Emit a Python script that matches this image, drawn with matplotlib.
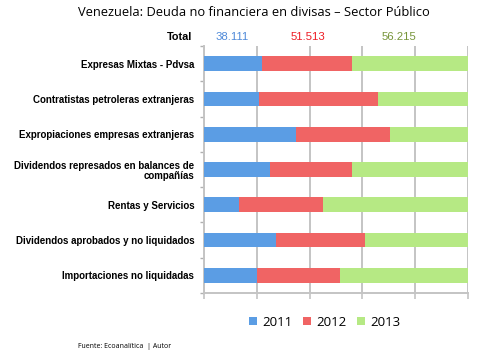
import matplotlib
matplotlib.use('Agg')
import matplotlib.pyplot as plt
import numpy as np

# 数据（百分比，从图中读取）
categorias = ['Expresas Mixtas - Pdvsa',
              'Contratistas petroleras extranjeras',
              'Expropiaciones empresas extranjeras',
              'Dividendos represados en balances de\ncompañías',
              'Rentas y Servicios',
              'Dividendos aprobados y no liquidados',
              'Importaciones no liquidadas']
anios = ['2011', '2012', '2013']
v2011 = [22.1, 21.0, 34.7, 25.0, 13.4, 27.3, 20.2]
v2012 = [33.9, 44.9, 35.6, 31.1, 31.7, 33.8, 31.3]
v2013 = [44.0, 34.1, 29.7, 43.9, 54.9, 38.9, 48.5]
totales = ['38.111', '51.513', '56.215']

colores = ['#5b9de4', '#f06464', '#b6e984']
colores_texto = ['#4f8ad9', '#ee1c25', '#77953a']

fig = plt.figure(figsize=(4.91, 3.54), dpi=100)
ax = fig.add_axes([204 / 491, 1 - 293 / 354, 264 / 491, 247 / 354])

y = np.arange(len(categorias))
izq = np.zeros(len(categorias))
barras = []
for serie, color, nombre in zip([v2011, v2012, v2013], colores, anios):
    b = ax.barh(y, serie, left=izq, height=0.42, color=color, label=nombre, zorder=3)
    barras.append(b)
    izq = izq + np.array(serie)

ax.set_xlim(0, 100)
ax.set_ylim(len(categorias) - 0.5, -0.5)

## 网格和坐标轴
ax.set_xticks(np.arange(0, 101, 20))
ax.set_xticklabels([])
ax.grid(axis='x', color='#c4c4c4', linewidth=1.4, zorder=0)
ax.tick_params(axis='x', length=4, color='#c4c4c4', width=1.2)

ax.set_yticks(y)
ax.set_yticklabels(categorias, fontsize=7, fontweight='bold', family='Liberation Sans',
                   linespacing=1.1)
ax.set_yticks(np.arange(-0.5, len(categorias), 1), minor=True)
ax.tick_params(axis='y', which='major', length=0, pad=7)
ax.tick_params(axis='y', which='minor', length=3, color='#b0b0b0', width=1)

for s in ['top', 'right']:
    ax.spines[s].set_visible(False)
for s in ['left', 'bottom']:
    ax.spines[s].set_color('#c4c4c4')
    ax.spines[s].set_linewidth(1.4)

## 总计行
ax.text(-4.6, -0.76, 'Total', ha='right', va='center', fontsize=7.8, fontweight='bold',
        family='Liberation Sans', clip_on=False)
for xp, t, c in zip([10.6, 39.4, 73.9], totales, colores_texto):
    ax.text(xp, -0.76, t, ha='center', va='center', fontsize=8.2, color=c,
            family='Liberation Sans', clip_on=False)

## 标题
fig.text(254 / 491, 1 - 12 / 354, 'Venezuela: Deuda no financiera en divisas – Sector Público',
         ha='center', va='center', fontsize=9.3, family='Open Sans')

## 图例
fig.legend(handles=barras, labels=anios, loc='center', bbox_to_anchor=(325 / 491, 1 - 322 / 354),
           ncol=3, frameon=False, handlelength=0.6, handleheight=0.6,
           handletextpad=0.4, columnspacing=0.8, prop={'family': 'Open Sans', 'size': 9.5})

## 来源
fig.text(78 / 491, 1 - 346 / 354, 'Fuente: Ecoanalítica  | Autor', ha='left', va='center',
         fontsize=5, family='Open Sans')

fig.savefig('out.png', dpi=100)
